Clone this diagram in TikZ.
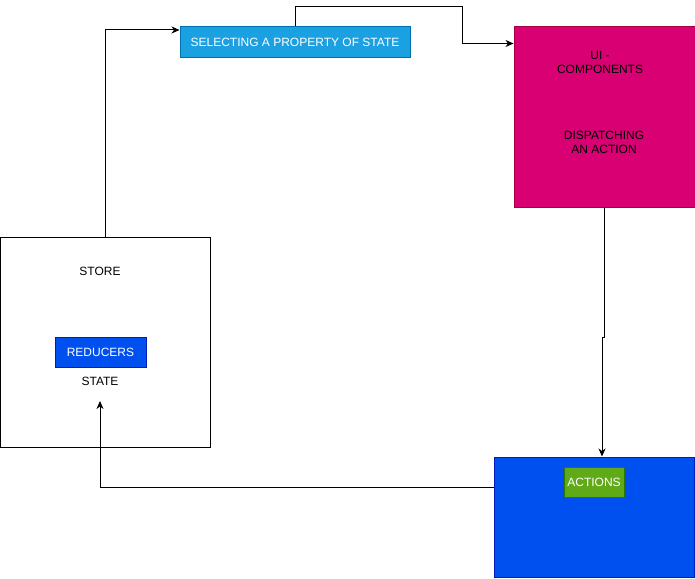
\documentclass[tikz,border=0pt]{standalone}
\usepackage{fontspec}
\setmainfont{Liberation Sans}
\usetikzlibrary{arrows.meta}
\definecolor{selfill}{HTML}{1BA1E2}
\definecolor{seldraw}{HTML}{006EAF}
\definecolor{uifill}{HTML}{D80073}
\definecolor{uidraw}{HTML}{A50040}
\definecolor{bluefill}{HTML}{0050EF}
\definecolor{bluedraw}{HTML}{001DBC}
\definecolor{greenfill}{HTML}{60A917}
\definecolor{greendraw}{HTML}{2D7600}

\begin{document}
\begin{tikzpicture}[x=1pt,y=-1pt,line width=1pt,
        font=\fontsize{12}{14}\selectfont,
        box/.style={rectangle,inner sep=0pt,line width=1pt},
        label/.style={inner sep=0pt,align=center},
        flow/.style={-{Stealth[length=8pt,width=7pt,inset=2.5pt]},line width=1pt}]
            \useasboundingbox (0,0) rectangle (695,578);
            % boxes
            \node[box,draw=black,fill=white,minimum width=210pt,minimum height=210pt] (store) at (105,342) {};
            \node[box,draw=seldraw,fill=selfill,text=white,minimum width=230pt,minimum height=30pt] (sel) at (295,42) {SELECTING A PROPERTY OF STATE};
            \node[box,draw=uidraw,fill=uifill,minimum width=181pt,minimum height=180pt] (ui) at (604.5,117) {};
            \node[box,draw=bluedraw,fill=bluefill,minimum width=200pt,minimum height=120pt] (act) at (594,517) {};
            \node[box,draw=bluedraw,fill=bluefill,text=white,minimum width=91pt,minimum height=30pt] (reducers) at (100.5,352) {REDUCERS};
            \node[box,draw=greendraw,fill=greenfill,text=white,minimum width=60pt,minimum height=30pt] (actions) at (594,482) {ACTIONS};
            % texts
            \node[label] (storetext) at (100,271) {STORE};
            \node[label] (statetext) at (100,381) {STATE};
            \node[label] (uitext) at (600,62) {UI -\\COMPONENTS};
            \node[label] (dispatch) at (604,142) {DISPATCHING\\AN ACTION};
            \coordinate (statein) at (100,401);
            % connectors
            \draw[flow] (store.north) |- ([yshift=12pt]sel.west);
            \draw[flow] (sel.north) |- (462,7) |- ([yshift=-17pt]ui.north west);
            \draw[flow] (ui.south) |- (602,337) -- ([xshift=8pt]act.north);
            \draw[flow] ([yshift=30pt]act.west) -| (statein);
        \end{tikzpicture}
\end{document}
